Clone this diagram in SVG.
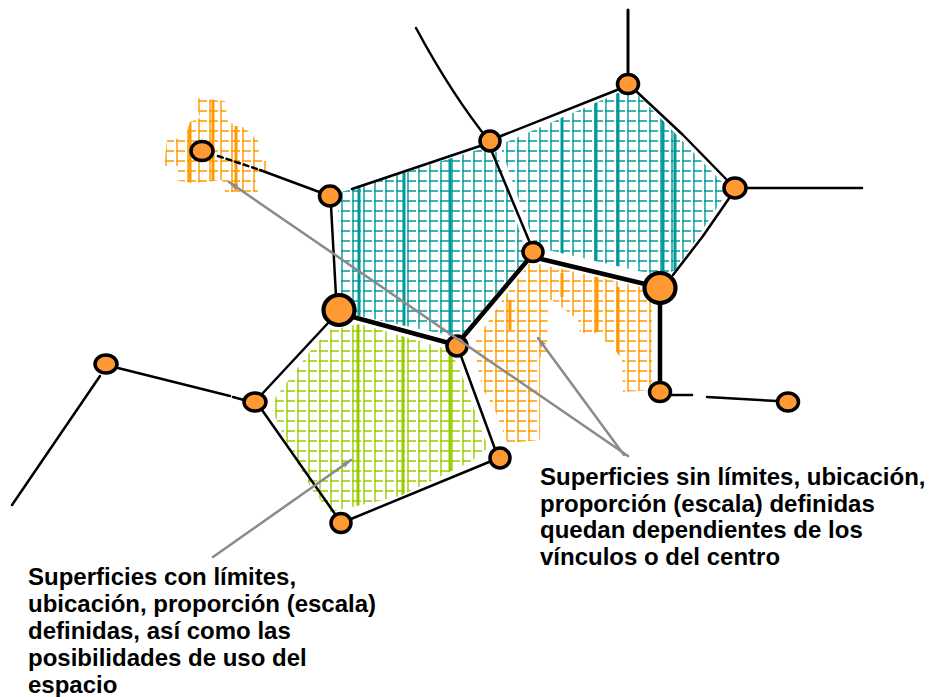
<svg xmlns="http://www.w3.org/2000/svg" width="936" height="697" viewBox="0 0 936 697">
<style>
.thin{fill:none;stroke:#000;stroke-width:2.5;stroke-linecap:round;stroke-linejoin:round}
.thick{fill:none;stroke:#000;stroke-width:4.5;stroke-linecap:round}
.nd{fill:#ff9933;stroke:#000;stroke-width:3.5}
.ndb{fill:#ff9933;stroke:#000;stroke-width:4.2}
.arr{fill:none;stroke:#8a8a8a;stroke-width:2.5;stroke-linecap:round}
.lbl{font-family:"Liberation Sans",Arial,sans-serif;font-weight:bold;font-size:24px;fill:#000}
.tv{stroke:#009999;stroke-width:3}
.gv{stroke:#99cc00;stroke-width:3}
.ov{stroke:#ff9900;stroke-width:3}
</style>
<defs>
<pattern id="pt" patternUnits="userSpaceOnUse" width="11" height="10">
<path d="M0,1 H9 M1,0 V10" stroke="#009999" stroke-width="1.4" fill="none"/>
</pattern>
<pattern id="pg" patternUnits="userSpaceOnUse" width="11" height="10">
<path d="M0,1 H9 M1,0 V10" stroke="#99cc00" stroke-width="1.4" fill="none"/>
</pattern>
<pattern id="po" patternUnits="userSpaceOnUse" width="11" height="10">
<path d="M0,1 H9 M1,0 V10" stroke="#ff9900" stroke-width="1.4" fill="none"/>
</pattern>
<clipPath id="cTL"><polygon points="338,193 484,148 497,152 522,240 528,256 462,335 452,336 350,314 340,300"/></clipPath>
<clipPath id="cTR"><polygon points="500,145 618,93 638,95 722,182 724,197 676,270 660,276 548,250 533,240 505,160"/></clipPath>
<clipPath id="cG"><polygon points="330,330 360,324 450,350 462,375 488,448 470,462 400,496 330,512 312,490 290,450 270,405 285,385 315,345"/></clipPath>
<clipPath id="cO2"><polygon points="530,262 646,288 652,300 652,390 623,392 622,360 612,345 603,340 603,333 580,333 578,320 565,310 552,300 548,300 547,357 540,358 540,440 520,442 507,442 495,410 483,390 477,365 476,340 505,296"/></clipPath>
<clipPath id="cO1"><polygon points="195,98 225,101 228,122 245,128 262,145 255,158 268,162 266,172 255,178 258,192 225,192 222,180 195,183 178,181 178,166 164,166 167,140 185,138 190,122 200,118"/></clipPath>
<marker id="ah" markerWidth="12" markerHeight="8" refX="10" refY="4" orient="auto" markerUnits="userSpaceOnUse">
<path d="M0,1 L10,4 L0,7 L2.5,4 Z" fill="#8a8a8a"/>
</marker>
</defs>

<g id="hatches">
<g clip-path="url(#cTL)">
<rect x="330" y="140" width="200" height="200" fill="url(#pt)"/>
<path class="tv" d="M359,150 V340 M404,150 V340 M450,150 V340"/>
</g>
<g clip-path="url(#cTR)">
<rect x="495" y="85" width="235" height="200" fill="url(#pt)"/>
<path class="tv" d="M562,90 V280 M596,90 V280 M618,90 V280 M663,90 V280 M675,90 V280"/>
</g>
<g clip-path="url(#cG)">
<rect x="265" y="320" width="230" height="200" fill="url(#pg)"/>
<path class="gv" d="M358,320 V515 M403,320 V515 M450,320 V515"/>
</g>
<g clip-path="url(#cO2)">
<rect x="470" y="255" width="190" height="195" fill="url(#po)"/>
<path class="ov" d="M562,273 V297 M597,277 V332 M618,287 V360 M510,300 V330"/>
</g>
<g clip-path="url(#cO1)">
<rect x="160" y="95" width="112" height="100" fill="url(#po)"/>
<path class="ov" d="M190,118 V183 M213,99 V183 M236,126 V190"/>
</g>
</g>

<g id="connectors">
<path class="thin" d="M218,156 L260,170" stroke-dasharray="5,4"/>
<path class="thin" d="M260,170 L322,193"/>
<path class="thin" d="M352,189 L480,146"/>
<path class="thin" d="M416,28 Q452,95 490,142"/>
<path class="thin" d="M501,136 L617,90"/>
<path class="thick" style="stroke-width:3" d="M628,10 V74"/>
<path class="thin" d="M637,92 L683,135 L726,179"/>
<path class="thin" d="M745,188 H862"/>
<path class="thin" d="M730,197 L703,236 L673,275"/>
<path class="thin" d="M492,152 L530,243"/>
<path class="thick" d="M541,259 L645,284"/>
<path class="thick" d="M527,261 L463,337"/>
<path class="thick" d="M353,317 L449,343"/>
<path class="thin" d="M331,206 L336,296"/>
<path class="thick" d="M660,303 V383"/>
<path class="thin" d="M669,395 H692 M707,397 L777,401"/>
<path class="thin" d="M329,322 L262,394"/>
<path class="thin" d="M118,368 L230,396 M233,397 L244,400"/>
<path class="thin" d="M100,376 L12,505"/>
<path class="thin" d="M262,410 L335,514"/>
<path class="thin" d="M351,519 L489,462"/>
<path class="thin" d="M495,449 L461,356"/>
</g>

<g id="n1"><ellipse class="nd" cx="202" cy="151" rx="11" ry="9.5"/></g>
<g id="n2"><ellipse class="nd" cx="330" cy="196" rx="10.5" ry="10"/></g>
<g id="n3"><ellipse class="nd" cx="490" cy="141" rx="10" ry="10"/></g>
<g id="n4"><ellipse class="nd" cx="628" cy="84" rx="10.5" ry="9.5"/></g>
<g id="n5"><ellipse class="nd" cx="735" cy="188" rx="11" ry="10"/></g>
<g id="n6"><ellipse class="nd" cx="533" cy="252" rx="10" ry="9.5"/></g>
<g id="n7"><ellipse class="ndb" cx="660" cy="288" rx="15.5" ry="15"/></g>
<g id="n8"><ellipse class="ndb" cx="339" cy="310" rx="15.5" ry="15"/></g>
<g id="n9"><ellipse class="nd" cx="457" cy="346" rx="10" ry="10"/></g>
<g id="n10"><ellipse class="nd" cx="660" cy="392" rx="10.5" ry="9.5"/></g>
<g id="n11"><ellipse class="nd" cx="788" cy="402" rx="10.5" ry="9"/></g>
<g id="n12"><ellipse class="nd" cx="106" cy="364" rx="11" ry="9"/></g>
<g id="n13"><ellipse class="nd" cx="255" cy="402" rx="11" ry="9"/></g>
<g id="n14"><ellipse class="nd" cx="500" cy="458" rx="10" ry="10"/></g>
<g id="n15"><ellipse class="nd" cx="341" cy="523" rx="10" ry="9.5"/></g>

<g id="arrows">
<path class="arr" d="M628,456 L229,182" marker-end="url(#ah)"/>
<path class="arr" d="M624,455 L538,338" marker-end="url(#ah)"/>
<path class="arr" d="M213,557 L351,460" marker-end="url(#ah)"/>
</g>

<g id="label-right">
<text class="lbl" x="540" y="485">Superficies sin límites, ubicación,</text>
<text class="lbl" x="540" y="512">proporción (escala) definidas</text>
<text class="lbl" x="540" y="538">quedan dependientes de los</text>
<text class="lbl" x="540" y="565">vínculos o del centro</text>
</g>
<g id="label-left">
<text class="lbl" x="28" y="585">Superficies con límites,</text>
<text class="lbl" x="28" y="612">ubicación, proporción (escala)</text>
<text class="lbl" x="28" y="639">definidas, así como las</text>
<text class="lbl" x="28" y="666">posibilidades de uso del</text>
<text class="lbl" x="28" y="693">espacio</text>
</g>
</svg>
